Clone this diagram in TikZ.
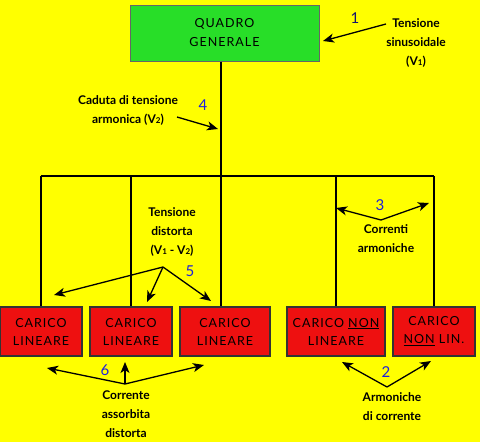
\documentclass[tikz,border=0pt]{standalone}
\usepackage{fontspec}
\setmainfont{Lato}
\newfontfamily\boxfont[LetterSpace=8]{Lato}
\usetikzlibrary{arrows.meta}
\definecolor{bgyellow}{RGB}{255,255,0}
\definecolor{boxgreen}{RGB}{40,222,40}
\definecolor{boxred}{RGB}{238,16,16}
\definecolor{numblue}{RGB}{30,30,220}
\definecolor{navy}{RGB}{20,20,110}
\tikzset{
  wire/.style={line width=1.3pt, black},
  arr/.style={line width=1.3pt, black, -{Stealth[length=11pt,width=9pt,inset=3pt]}},
  lbl/.style={font=\fontsize{12}{19}\selectfont\bfseries, align=center, text=black},
  num/.style={font=\fontsize{15}{15}\selectfont, text=numblue},
  greenbox/.style={draw=gray!80!black, line width=1pt, fill=boxgreen, minimum width=189pt, minimum height=56pt, align=center, font=\boxfont\fontsize{12.5}{19}\selectfont, text=black},
  redbox/.style={draw=black!80, line width=1.2pt, fill=boxred, minimum height=49pt, align=center, font=\boxfont\fontsize{12.5}{18}\selectfont, text=black, inner sep=0pt},
}
\newcommand{\Vs}[1]{V{\fontsize{8}{8}\selectfont #1}}
\begin{document}
\begin{tikzpicture}[x=1pt,y=-1pt]
\fill[bgyellow] (0,0) rectangle (480,442);
\useasboundingbox (0,0) rectangle (480,442);

% main panel
\node[greenbox] (q) at (224.5,33) {QUADRO\\GENERALE};

% loads
\node[redbox, minimum width=82pt] (b1) at (41,331.5) {CARICO\\LINEARE};
\node[redbox, minimum width=82pt] (b2) at (131,331.5) {CARICO\\LINEARE};
\node[redbox, minimum width=90pt] (b3) at (225,331.5) {CARICO\\LINEARE};
\node[redbox, minimum width=98pt] (b4) at (336,331.5) {CARICO \underline{NON}\\LINEARE};
\node[redbox, minimum width=82pt] (b5) at (434,331.5) {CARICO\\\underline{NON} LIN.};

% bus
\coordinate (j0) at (221,176);
\coordinate (j1) at (41,176);
\coordinate (j2) at (131,176);
\coordinate (j4) at (336,176);
\coordinate (j5) at (434,176);
\draw[wire] (q.south -| j0) -- (j0);
\draw[wire] (j1) -- (j5);
\draw[wire] (j1) -- (b1.north);
\draw[wire] (j2) -- (b2.north);
\draw[wire] (j0) -- (b3.north -| j0);
\draw[wire] (j4) -- (b4.north);
\draw[wire] (j5) -- (b5.north);

% 1
\node[lbl] (t1) at (416,43) {Tensione\\sinusoidale\\(\Vs{1})};
\node[font=\fontsize{15}{15}\selectfont, text=navy] (n1) at (355,18) {1};
\coordinate (a1s) at (386,24);
\coordinate (a1e) at (323,41);
\draw[arr] (a1s) -- (a1e);

% 4
\node[lbl] (t4) at (128,110.5) {Caduta di tensione\\armonica (\Vs{2})};
\node[num] (n4) at (203,105) {4};
\coordinate (a4s) at (177,117);
\coordinate (a4e) at (218,129);
\draw[arr] (a4s) -- (a4e);

% 5
\node[lbl] (t5) at (172,232) {Tensione\\distorta\\(\Vs{1} - \Vs{2})};
\node[num] (n5) at (190,271) {5};
\coordinate (a5s) at (163,267);
\coordinate (a5a) at (54,295);
\coordinate (a5b) at (147,302);
\coordinate (a5c) at (211,301);
\draw[arr] (a5s) -- (a5a);
\draw[arr] (a5s) -- (a5b);
\draw[arr] (a5s) -- (a5c);

% 3
\node[lbl] (t3) at (386,238.5) {Correnti\\armoniche};
\node[num] (n3) at (380,205) {3};
\coordinate (a3s) at (381,220);
\coordinate (a3a) at (336,208);
\coordinate (a3b) at (429,203);
\draw[arr] (a3s) -- (a3a);
\draw[arr] (a3s) -- (a3b);

% 6
\node[lbl] (t6) at (126,414) {Corrente\\assorbita\\distorta};
\node[num] (n6) at (105,370) {6};
\coordinate (a6s) at (125,384);
\coordinate (a6a) at (47,368);
\coordinate (a6b) at (125,362);
\coordinate (a6c) at (204,365);
\draw[arr] (a6s) -- (a6a);
\draw[arr] (a6s) -- (a6b);
\draw[arr] (a6s) -- (a6c);

% 2
\node[lbl] (t2) at (392,407) {Armoniche\\di corrente};
\node[num] (n2) at (386,372) {2};
\coordinate (a2s) at (387,387);
\coordinate (a2a) at (342,362);
\coordinate (a2b) at (431,361);
\draw[arr] (a2s) -- (a2a);
\draw[arr] (a2s) -- (a2b);
\end{tikzpicture}
\end{document}
